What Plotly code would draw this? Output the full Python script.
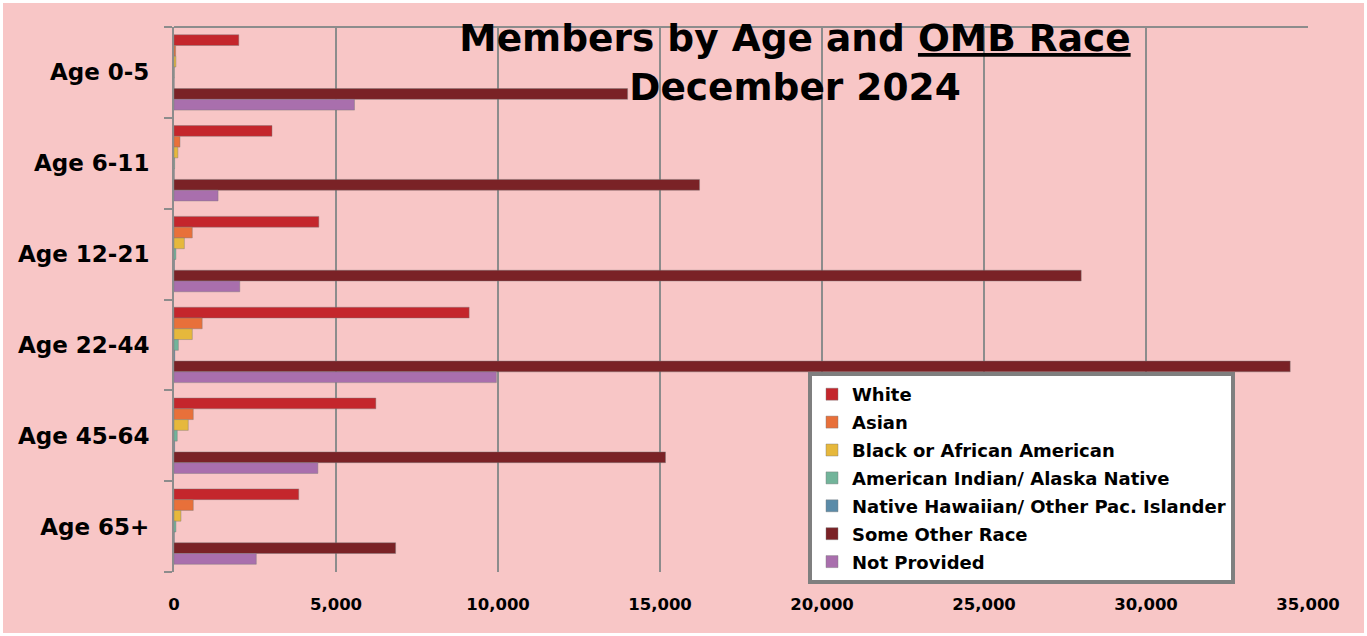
import plotly.graph_objects as go

categories = ["Age 0-5", "Age 6-11", "Age 12-21", "Age 22-44", "Age 45-64", "Age 65+"]

white = [2000, 3025, 4470, 9110, 6230, 3850]
asian = [50, 185, 565, 870, 595, 595]
black = [60, 120, 320, 565, 440, 215]
aian = [10, 20, 60, 135, 100, 60]
nhopi = [5, 8, 15, 25, 20, 10]
some_other = [14000, 16220, 28000, 34450, 15170, 6840]
not_provided = [5570, 1360, 2030, 9950, 4440, 2540]

series = [
    ("White", white, "#C4262C"),
    ("Asian", asian, "#E8703A"),
    ("Black or African American", black, "#E6B83C"),
    ("American Indian/ Alaska Native", aian, "#72B49A"),
    ("Native Hawaiian/ Other Pac. Islander", nhopi, "#5B8BA8"),
    ("Some Other Race", some_other, "#7A2226"),
    ("Not Provided", not_provided, "#A96FAD"),
]

x_ticks = [0, 5000, 10000, 15000, 20000, 25000, 30000, 35000]
x_labels = ["0", "5,000", "10,000", "15,000", "20,000", "25,000", "30,000", "35,000"]

FONT = "DejaVu Sans"

fig = go.Figure()
for name, vals, col in series:
    fig.add_trace(go.Bar(
        y=categories, x=vals, name="<b>%s</b>" % name, orientation="h",
        legendgroup=name,
        marker=dict(color=col, line=dict(color="rgba(120,120,120,0.7)", width=0.6)),
    ))

W, H = 1367, 636
L, R, T, B = 174, 59, 27, 64
pw, ph = W - L - R, H - T - B

fig.update_layout(
    width=W, height=H,
    margin=dict(l=L, r=R, t=T, b=B, autoexpand=False),
    paper_bgcolor="#FFFFFF",
    plot_bgcolor="#FFFFFF",
    barmode="group",
    bargap=0.17,
    bargroupgap=0,
    font=dict(family=FONT, color="#000000"),
    title=dict(
        text="<b>Members by Age and <u>OMB Race</u><br>December 2024</b>",
        font=dict(family=FONT, size=37.5, color="#000000"),
        x=(795 - L) / pw, xref="paper", xanchor="center",
        y=1 - 51 / H, yref="container", yanchor="top",
    ),
    xaxis=dict(
        range=[0, 35000],
        tickvals=x_ticks, ticktext=["<b>%s</b>" % t for t in x_labels],
        tickfont=dict(family=FONT, size=16.5, color="#000000"),
        showgrid=True, gridcolor="#8C8C8C", gridwidth=1.5,
        zeroline=False, showline=False, ticks="",
        ticklabelstandoff=20,
    ),
    yaxis=dict(
        autorange="reversed",
        tickvals=categories,
        ticktext=["<b>%s</b>" % c for c in categories],
        tickfont=dict(family=FONT, size=23, color="#000000"),
        showgrid=False, showline=True, linecolor="#8C8C8C", linewidth=2,
        ticks="outside", tickson="boundaries", ticklen=8, tickcolor="#8C8C8C", tickwidth=2,
        ticklabelstandoff=18,
    ),
    legend=dict(
        x=(808 - L) / pw, y=(572 - 372) / ph, xanchor="left", yanchor="top",
        bgcolor="#FFFFFF", bordercolor="#7F7F7F", borderwidth=4,
        font=dict(family=FONT, size=18, color="#000000"),
        traceorder="grouped", tracegroupgap=1.5,
    ),
    shapes=[
        dict(type="rect", xref="paper", yref="paper",
             x0=(3 - L) / pw, x1=(W - 3 - L) / pw,
             y0=(572 - (H - 3)) / ph, y1=(572 - 3) / ph,
             fillcolor="#F8C6C6", line=dict(width=0), layer="below"),
        dict(type="line", xref="paper", yref="paper", x0=0, x1=1, y0=1, y1=1,
             line=dict(color="#8C8C8C", width=2)),
    ],
    showlegend=True,
)

fig.write_html(
    "out.html",
    config={"displayModeBar": False},
    post_script="document.body.style.margin='0';document.body.style.overflow='hidden';",
)
